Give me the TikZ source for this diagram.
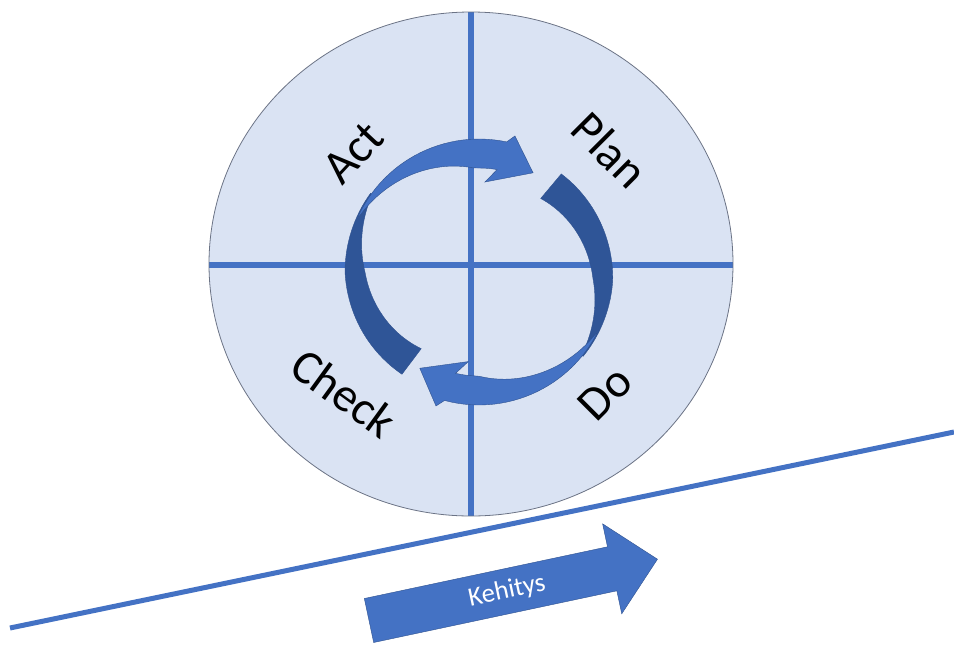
\documentclass[tikz,border=0pt]{standalone}
\usepackage{fontspec}
\setmainfont{Carlito}

\definecolor{discfill}{HTML}{DAE3F3}
\definecolor{discedge}{HTML}{6B7385}
\definecolor{officeblue}{HTML}{4472C4}
\definecolor{darkblue}{HTML}{2F5597}
\definecolor{edgeblue}{HTML}{2F528F}

\tikzset{
  crossline/.style={draw=officeblue, line width=4.5},
  groundline/.style={draw=officeblue, line width=3.75},
  cyclelight/.style={fill=officeblue, draw=edgeblue, line width=0.3},
  cycledark/.style={fill=darkblue, draw=edgeblue, line width=0.3},
  phase/.style={font=\fontsize{36}{40}\selectfont, inner sep=0.75pt},
  trendlabel/.style={font=\fontsize{20}{22}\selectfont, text=white, inner sep=0.75pt}
}

\begin{document}
\begin{tikzpicture}[x=0.75pt,y=0.75pt,yscale=-1,xscale=1]
\useasboundingbox (0,0) rectangle (954,644);

%Shape: Ellipse
\fill[discfill] (471,264) ellipse (262 and 252);
%Straight Lines
\draw[crossline] (209,265) -- (733,265);
\draw[crossline] (471,12) -- (471,516);
\draw[discedge, line width=0.6] (471,264) ellipse (262 and 252);

%Circular Arrows (second one is the first turned round)
\foreach \turn in {0,183}{
\begin{scope}[shift={(479,272)}, rotate=\turn]
\draw[cycledark] plot[domain=127:216, variable=\a, samples=40] (\a:{min(134,128+0.113*(\a-127))})
  -- plot[domain=216:127, variable=\a, samples=40] (\a:{max(96+0.34*(\a-127),114+0.5*(\a-180))}) -- cycle;
\draw[cyclelight] plot[domain=203:282, variable=\a, samples=30] (\a:133)
  -- (284.8:140.7) -- (298.6:113) -- (273.8:90.2) -- (280:104)
  -- plot[domain=280:203, variable=\a, samples=30] (\a:{max(104,133-0.45*(\a-203))}) -- cycle;
\end{scope}
}

%Straight Lines
\draw[groundline] (10,628) -- (954,432);

%Right Arrow
\begin{scope}[shift={(369,620.5)}, rotate=-12]
\draw[fill=officeblue, draw=edgeblue, line width=0.3] (0,-22.5) -- (248.6,-22.5) -- (248.6,-46) -- (294.9,0) -- (248.6,46) -- (248.6,22.5) -- (0,22.5) -- cycle;
% Text Node
\node[trendlabel, rotate=12] (trend) at (141,0) {Kehitys};
\end{scope}

% Text Node
\node[phase, rotate=47] (act) at (353,153) {Act};
% Text Node
\node[phase, rotate=-45] (plan) at (610,150) {Plan};
% Text Node
\node[phase, rotate=-36] (check) at (344,393) {Check};
% Text Node
\node[phase, rotate=45] (do) at (605,393) {Do};

\end{tikzpicture}
\end{document}
